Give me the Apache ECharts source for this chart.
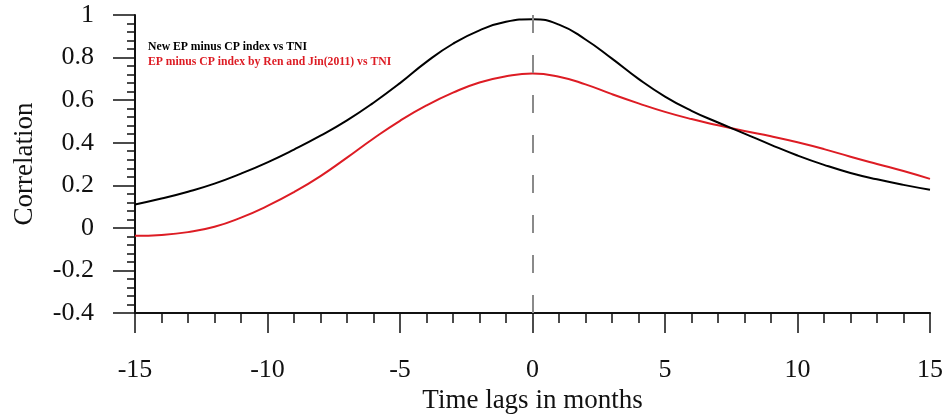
<!DOCTYPE html>
<html>
<head>
<meta charset="utf-8">
<script src="https://cdn.jsdelivr.net/npm/echarts@6/dist/echarts.min.js"></script>
<style>
  html, body { margin: 0; padding: 0; background: #fff; }
  #chart { width: 947px; height: 416px; }
</style>
</head>
<body>
<div id="chart"></div>
<script>
// Lag correlation of two EP-minus-CP indices with the TNI index
const lags = [-15, -14, -13, -12, -11, -10, -9, -8, -7, -6, -5, -4, -3, -2, -1, 0,
              1, 2, 3, 4, 5, 6, 7, 8, 9, 10, 11, 12, 13, 14, 15];
const newIndexCorr = [0.11, 0.138, 0.17, 0.208, 0.255, 0.308, 0.368, 0.433, 0.505, 0.588,
                      0.68, 0.78, 0.865, 0.928, 0.968, 0.98, 0.955, 0.885, 0.795, 0.70,
                      0.617, 0.55, 0.495, 0.443, 0.39, 0.34, 0.296, 0.258, 0.228, 0.202, 0.179];
const renJinCorr = [-0.037, -0.033, -0.02, 0.005, 0.048, 0.103, 0.168, 0.243, 0.33, 0.42,
                    0.503, 0.575, 0.635, 0.683, 0.712, 0.725, 0.71, 0.674, 0.628, 0.585,
                    0.545, 0.511, 0.482, 0.455, 0.43, 0.402, 0.37, 0.334, 0.3, 0.267, 0.23];
const seriesNames = ['New EP minus CP index vs TNI', 'EP minus CP index by Ren and Jin(2011) vs TNI'];
const seriesColors = ['#000000', '#dd1c24'];
const xName = 'Time lags in months';
const yName = 'Correlation';

const FONT = "'Liberation Serif', 'Times New Roman', serif";

const pairs = vals => lags.map((l, i) => [l, vals[i]]);

const chart = echarts.init(document.getElementById('chart'), null, { renderer: 'canvas' });
chart.setOption({
  backgroundColor: '#ffffff',
  animation: false,
  textStyle: { fontFamily: FONT },
  grid: { left: 135, right: 17, top: 15, bottom: 103, containLabel: false, outerBoundsMode: 'none' },
  legend: {
    orient: 'vertical',
    left: 138,
    top: 36,
    icon: 'none',
    itemWidth: 0,
    itemHeight: 12,
    itemGap: 3,
    selectedMode: false,
    textStyle: { fontFamily: FONT, fontSize: 11.7, fontWeight: 'bold', lineHeight: 12 },
    data: seriesNames.map((n, i) => ({ name: n, textStyle: { color: seriesColors[i] } }))
  },
  xAxis: {
    type: 'value',
    min: -15, max: 15, interval: 5,
    name: xName,
    nameLocation: 'middle',
    nameGap: 74,
    nameTextStyle: { fontFamily: FONT, fontSize: 27, color: '#111' },
    axisLine: { show: true, onZero: false, lineStyle: { color: '#111', width: 2 } },
    axisTick: { show: true, inside: false, length: 20, lineStyle: { color: '#111', width: 1.5 } },
    minorTick: { show: true, splitNumber: 5, length: 10, lineStyle: { color: '#111', width: 1.5 } },
    axisLabel: { fontFamily: FONT, fontSize: 26, color: '#111', margin: 44 },
    splitLine: { show: false }
  },
  yAxis: {
    type: 'value',
    min: -0.4, max: 1, interval: 0.2,
    name: yName,
    nameLocation: 'middle',
    nameGap: 97,
    nameTextStyle: { fontFamily: FONT, fontSize: 27, color: '#111' },
    axisLine: { show: true, onZero: false, lineStyle: { color: '#111', width: 2 } },
    axisTick: { show: true, inside: false, length: 22, lineStyle: { color: '#111', width: 1.5 } },
    minorTick: { show: true, splitNumber: 5, length: 8, lineStyle: { color: '#111', width: 1.5 } },
    axisLabel: {
      fontFamily: FONT, fontSize: 26, color: '#111', margin: 41,
      formatter: v => String(Math.round(v * 10) / 10)
    },
    splitLine: { show: false }
  },
  series: [
    {
      name: seriesNames[0],
      type: 'line',
      data: pairs(newIndexCorr),
      smooth: 0.5,
      symbol: 'none',
      lineStyle: { color: seriesColors[0], width: 2 },
      itemStyle: { color: seriesColors[0] },
      z: 3,
      markLine: {
        silent: true,
        symbol: 'none',
        label: { show: false },
        lineStyle: { color: '#8a8a8a', width: 2, type: [18, 22] },
        data: [{ xAxis: 0 }]
      }
    },
    {
      name: seriesNames[1],
      type: 'line',
      data: pairs(renJinCorr),
      smooth: 0.5,
      symbol: 'none',
      lineStyle: { color: seriesColors[1], width: 2 },
      itemStyle: { color: seriesColors[1] },
      z: 2
    }
  ]
});
</script>
</body>
</html>
